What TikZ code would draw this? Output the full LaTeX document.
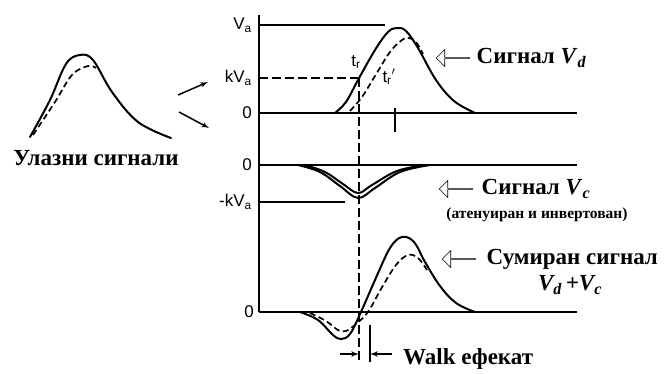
\documentclass[tikz,border=0pt]{standalone}
\usepackage{fontspec}
\setmainfont{Liberation Serif}
\setsansfont{Liberation Sans}
\usetikzlibrary{arrows, positioning, shapes.arrows}

\begin{document}
\begin{tikzpicture}[x=1pt, y=-1pt,
    curve/.style={line width=2pt, line cap=round},
    dcurve/.style={line width=1.7pt, dash pattern=on 6pt off 3.5pt},
    axis/.style={line width=1.8pt},
    lbl/.style={font=\sffamily\fontsize{17}{19}\selectfont, inner sep=1pt},
    title/.style={font=\bfseries\fontsize{23}{26}\selectfont, inner sep=0pt},
    hollow/.style={single arrow, draw, line width=0.6pt, shape border rotate=180,
        minimum height=33pt, minimum width=17pt, single arrow head extend=4pt, inner sep=0pt}]
    \useasboundingbox (0,0) rectangle (665,374);

    % input pulse
    \draw [curve] plot[smooth, tension=0.6] coordinates {(30,137) (50,100) (66,64) (80,55) (93,60) (112,92) (138,122) (171,138)};
    \draw [dcurve] plot[smooth, tension=0.6] coordinates {(33,135) (55,102) (72,75) (88,66) (96,68)};
    \node [title] (inlbl) at (96,158) {Улазни сигнали};
    \coordinate (a1) at (178,95);
    \coordinate (a2) at (208,82);
    \coordinate (b1) at (179,112);
    \coordinate (b2) at (209,128);
    \draw [-latex', line width=1.5pt] (a1) -- (a2);
    \draw [-latex', line width=1.5pt] (b1) -- (b2);

    % axes
    \coordinate (top) at (259,15);
    \coordinate (o1) at (259,113);
    \coordinate (o1e) at (577,113);
    \coordinate (o2) at (259,165);
    \coordinate (o2e) at (577,165);
    \coordinate (o3) at (259,312);
    \coordinate (o3e) at (577,312);
    \draw [axis] (top) -- (o3);
    \draw [axis] (o1) -- (o1e);
    \draw [axis] (o2) -- (o2e);
    \draw [axis] (o3) -- (o3e);
    \coordinate (va) at (259,25);
    \coordinate (vae) at (385,25);
    \draw [axis] (va) -- (vae);
    \coordinate (kva) at (259,78);
    \coordinate (kvae) at (358,78);
    \draw [axis, dash pattern=on 9pt off 4pt] (kva) -- (kvae);
    \coordinate (mkva) at (259,202);
    \coordinate (mkvae) at (345,202);
    \draw [axis] (mkva) -- (mkvae);

    \node [lbl, left=6pt of va] (lva) {V\textsubscript{a}};
    \node [lbl, left=6pt of kva] (lkva) {kV\textsubscript{a}};
    \node [lbl, left=6pt of o1] (l01) {0};
    \node [lbl, left=6pt of o2] (l02) {0};
    \node [lbl, left=6pt of mkva] (lmkva) {-kV\textsubscript{a}};
    \node [lbl, left=4pt of o3] (l03) {0};

    % Vd
    \draw [curve] plot[smooth, tension=0.6] coordinates {(335,113) (346,102) (358,80) (375,50) (388,32) (397,28) (406,31) (418,48) (436,80) (454,101) (475,113)};
    \draw [dcurve] plot[smooth, tension=0.6] coordinates {(350,111) (362,97) (375,76) (390,52) (402,40) (409,38) (416,42) (423,54)};
    \node [lbl] (tr) at (356,62) {t\textsubscript{r}};
    \node [lbl] (trp) at (389,77) {t\textsubscript{r}$'$};
    \coordinate (tk1) at (395,108);
    \coordinate (tk2) at (395,132);
    \draw [axis] (tk1) -- (tk2);

    % Vc
    \draw [curve] plot[smooth, tension=0.6] coordinates {(298,165) (320,172) (340,186) (358,198) (375,188) (400,172) (430,165)};
    \draw [curve] plot[smooth, tension=0.6] coordinates {(305,165) (325,172) (343,184) (358,193) (372,185) (397,171) (425,165)};

    % Vd + Vc
    \draw [curve] plot[smooth, tension=0.6] coordinates {(300,312) (318,320) (333,335) (341,339) (350,334) (361,312) (375,280) (390,248) (402,237) (414,242) (425,262) (440,286) (456,303) (475,312)};
    \draw [dcurve] plot[smooth, tension=0.6] coordinates {(310,313) (326,321) (338,330) (346,331) (356,324) (368,312) (381,289) (396,265) (408,255) (418,258) (427,270)};

    % walk
    \coordinate (w1) at (359,78);
    \coordinate (w2) at (359,362);
    \draw [axis, dash pattern=on 9pt off 4pt] (w1) -- (w2);
    \coordinate (w3) at (370,325);
    \coordinate (w4) at (370,362);
    \draw [axis] (w3) -- (w4);
    \coordinate (wl) at (340,354);
    \coordinate (wlr) at (359,354);
    \coordinate (wr) at (392,354);
    \coordinate (wrl) at (370,354);
    \draw [-latex', line width=1.6pt] (wl) -- (wlr);
    \draw [-latex', line width=1.6pt] (wr) -- (wrl);
    \node [title, anchor=west] (walk) at (403,359) {Walk ефекат};

    % labels
    \node [hollow] (h1) at (453,58) {};
    \node [title, anchor=west, right=7pt of h1] (sd) {Сигнал \textit{V}\textsubscript{\textit{d}}};
    \node [hollow] (h2) at (456,189) {};
    \node [title, anchor=west, right=9pt of h2] (sc) {Сигнал \textit{V}\textsubscript{\textit{c}}};
    \node [font=\bfseries\fontsize{15.5}{17}\selectfont, inner sep=0pt] (sc2) at (537,215) {(атенуиран и инвертован)};
    \node [hollow] (h3) at (459,259) {};
    \node [title, anchor=west, right=11pt of h3] (ss) {Сумиран сигнал};
    \node [title, font=\bfseries\itshape\fontsize{23}{26}\selectfont] (ss2) at (570,285) {\textit{V}\textsubscript{\textit{d}}\,+\textit{V}\textsubscript{\textit{c}}};
\end{tikzpicture}
\end{document}
